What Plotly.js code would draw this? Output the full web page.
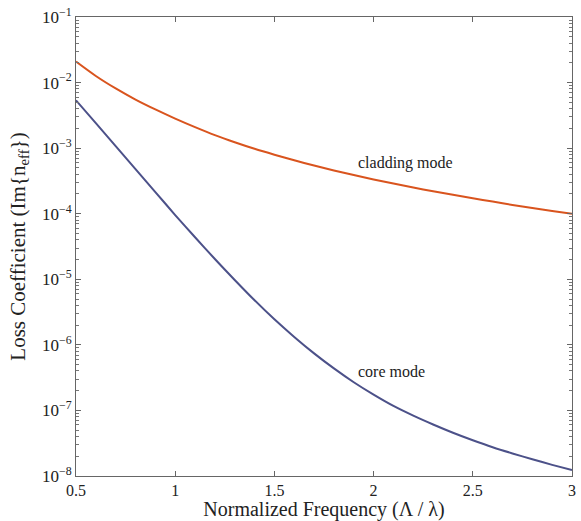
<!DOCTYPE html>
<html>
<head>
<meta charset="utf-8">
<script src="https://cdn.plot.ly/plotly-3.0.1.min.js"></script>
<style>html,body{margin:0;padding:0;background:#fff;}#chart{width:581px;height:521px;}</style>
</head>
<body>
<div id="chart"></div>
<script>
const freq = [0.5,0.6,0.7,0.8,0.9,1.0,1.1,1.2,1.3,1.4,1.5,1.6,1.7,1.8,1.9,2.0,2.1,2.2,2.3,2.4,2.5,2.6,2.7,2.8,2.9,3.0];
const claddingLoss = [2.09e-2,1.26e-2,8.13e-3,5.50e-3,3.89e-3,2.82e-3,2.09e-3,1.58e-3,1.23e-3,9.77e-4,7.94e-4,6.53e-4,5.43e-4,4.57e-4,3.89e-4,3.33e-4,2.88e-4,2.51e-4,2.20e-4,1.94e-4,1.72e-4,1.53e-4,1.36e-4,1.22e-4,1.10e-4,1.00e-4];
const coreLoss = [5.37e-3,2.40e-3,1.07e-3,4.79e-4,2.14e-4,9.55e-5,4.37e-5,2.04e-5,9.77e-6,4.79e-6,2.45e-6,1.32e-6,7.41e-7,4.37e-7,2.69e-7,1.74e-7,1.17e-7,8.32e-8,6.10e-8,4.57e-8,3.51e-8,2.75e-8,2.21e-8,1.80e-8,1.48e-8,1.23e-8];
const xTickVals = [0.5,1,1.5,2,2.5,3];
const xTickText = ['0.5','1','1.5','2','2.5','3'];
const yTickVals = [1e-8,1e-7,1e-6,1e-5,1e-4,1e-3,1e-2,1e-1];
const yTickText = ['10<sup>−8</sup>','10<sup>−7</sup>','10<sup>−6</sup>','10<sup>−5</sup>','10<sup>−4</sup>','10<sup>−3</sup>','10<sup>−2</sup>','10<sup>−1</sup>'];
const yDecades = [-8,-7,-6,-5,-4,-3,-2];
const minorMultipliers = [2,3,4,5,6,7,8,9];
const labels = ['cladding mode','core mode'];

// minor tick positions on the log axis (2..9 x 10^e)
const minorVals = [];
yDecades.forEach(e => minorMultipliers.forEach(m => minorVals.push(m * Math.pow(10, e))));

const serif = 'Liberation Serif, Times New Roman, serif';
const traces = [
  {x: freq, y: claddingLoss, mode: 'lines', line: {color: '#D9541E', width: 2, shape: 'spline', smoothing: 0.8}, name: labels[0], hoverinfo: 'skip'},
  {x: freq, y: coreLoss, mode: 'lines', line: {color: '#4C5189', width: 2, shape: 'spline', smoothing: 0.8}, name: labels[1], hoverinfo: 'skip'},
  {x: freq, y: coreLoss, xaxis: 'x', yaxis: 'y2', mode: 'lines', line: {width: 0, color: 'rgba(0,0,0,0)'}, hoverinfo: 'skip', showlegend: false}
];
const layout = {
  width: 581, height: 521,
  margin: {l: 76, r: 9, t: 17, b: 45},
  paper_bgcolor: '#ffffff', plot_bgcolor: 'rgba(0,0,0,0)',
  showlegend: false,
  font: {family: serif, color: '#222', size: 16},
  xaxis: {
    range: [0.5, 3], tickmode: 'array', tickvals: xTickVals, ticktext: xTickText,
    ticks: 'inside', ticklen: 5, tickcolor: '#666', tickwidth: 1,
    showline: true, linecolor: '#666', linewidth: 1, mirror: 'ticks',
    showgrid: false, zeroline: false,
    tickfont: {family: serif, size: 16, color: '#222'},
    title: {text: 'Normalized Frequency (Λ / λ)', font: {family: serif, size: 20, color: '#222'}, standoff: 0}
  },
  yaxis: {
    type: 'log', range: [-8, -1], tickmode: 'array', tickvals: yTickVals, ticktext: yTickText,
    ticks: 'inside', ticklen: 5, tickcolor: '#666', tickwidth: 1,
    showline: true, linecolor: '#666', linewidth: 1, mirror: 'ticks',
    showgrid: false, zeroline: false,
    tickfont: {family: serif, size: 17, color: '#222'},
    title: {text: 'Loss Coefficient (Im{n<sub>eff</sub>})', font: {family: serif, size: 21, color: '#222'}, standoff: 10}
  },
  yaxis2: {
    type: 'log', range: [-8, -1], overlaying: 'y', anchor: 'x', side: 'left',
    tickmode: 'array', tickvals: minorVals, showticklabels: false,
    ticks: 'inside', ticklen: 3, tickcolor: '#777', tickwidth: 1,
    showline: true, linecolor: '#666', linewidth: 1, mirror: 'ticks',
    showgrid: false, zeroline: false
  },
  annotations: [
    {x: 2.16, y: -3.23, xref: 'x', yref: 'y', text: labels[0], showarrow: false, font: {family: serif, size: 16, color: '#222'}},
    {x: 2.09, y: -6.41, xref: 'x', yref: 'y', text: labels[1], showarrow: false, font: {family: serif, size: 16, color: '#222'}}
  ]
};
Plotly.newPlot('chart', traces, layout, {displayModeBar: false});
</script>
</body>
</html>
